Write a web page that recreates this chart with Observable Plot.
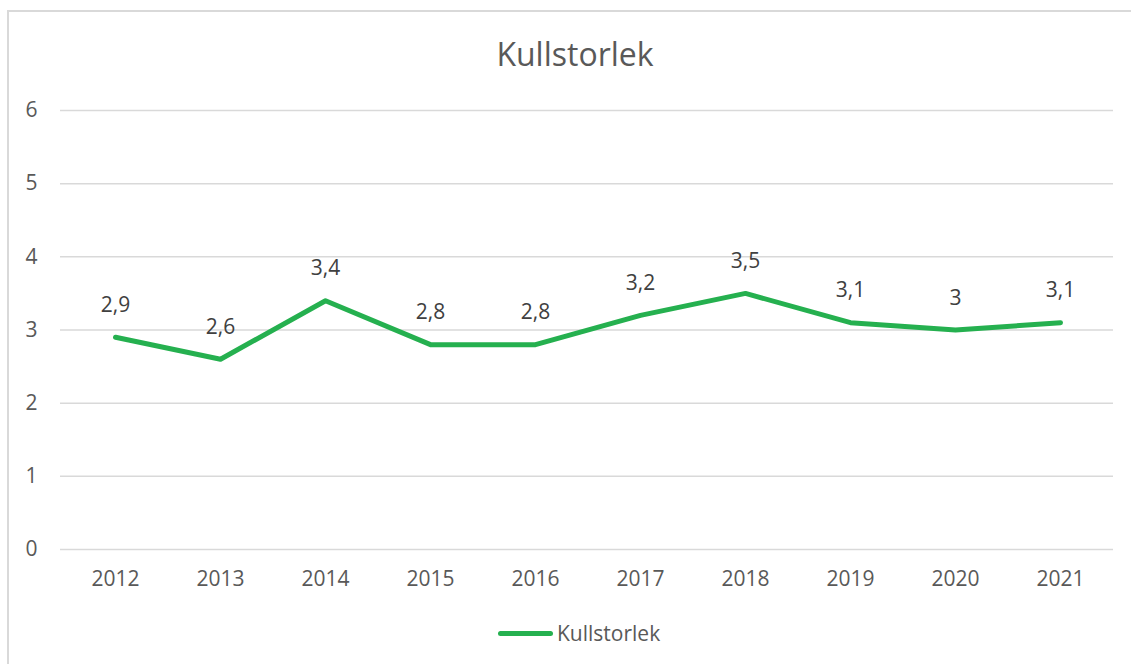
<!DOCTYPE html>
<html>
<head>
<meta charset="utf-8">
<script src="https://cdn.jsdelivr.net/npm/d3@7"></script>
<script src="https://cdn.jsdelivr.net/npm/@observablehq/plot@0.6"></script>
<style>
  html, body { margin: 0; padding: 0; background: #fff; }
  #wrap { position: relative; width: 1131px; height: 664px; overflow: hidden; font-family: "Open Sans", sans-serif; }
  #frame { position: absolute; left: 7px; top: 10px; width: 1300px; height: 800px; border-left: 2px solid #d9d9d9; border-top: 2px solid #d9d9d9; }
  #title { position: absolute; left: 0; width: 1150px; top: 38px; text-align: center; font-size: 32px; line-height: 32px; color: #595959; }
  #chart { position: absolute; left: 0; top: 90px; }
  #legend { position: absolute; left: 0; top: 620px; width: 1131px; height: 26px; }
  #legend .sw { position: absolute; left: 498px; top: 11px; width: 55px; height: 5px; border-radius: 3px; background: #25b04f; }
  #legend .lb { position: absolute; left: 557px; top: 0px; font-size: 21px; line-height: 26px; color: #595959; }
</style>
</head>
<body>
<div id="wrap">
  <div id="frame"></div>
  <div id="title">Kullstorlek</div>
  <div id="chart"></div>
  <div id="legend"><div class="sw"></div><div class="lb">Kullstorlek</div></div>
</div>
<script>
const years = ["2012","2013","2014","2015","2016","2017","2018","2019","2020","2021"];
const values = [2.9, 2.6, 3.4, 2.8, 2.8, 3.2, 3.5, 3.1, 3.0, 3.1];
const yTicks = [0, 1, 2, 3, 4, 5, 6];
const seriesName = "Kullstorlek";

const data = years.map((y, i) => ({year: y, value: values[i]}));
const fmt = v => String(v).replace(".", ",");

const chart = Plot.plot({
  width: 1131,
  height: 520,
  marginLeft: 60,
  marginRight: 18,
  marginTop: 20,
  marginBottom: 61,
  style: { fontFamily: "'Open Sans', sans-serif", fontSize: "21px", background: "transparent" },
  x: { type: "point", domain: years, padding: 0, insetLeft: 51, insetRight: 50, label: null },
  y: { domain: [0, 6], label: null },
  marks: [
    Plot.ruleY(yTicks, { stroke: "#d9d9d9", strokeWidth: 1.5 }),
    Plot.axisY({ ticks: yTicks, tickSize: 0, tickPadding: 23, tickFormat: d => String(d), label: null, fill: "#595959", fontSize: 21 }),
    Plot.axisX({ tickSize: 0, tickPadding: 22, label: null, fill: "#595959", fontSize: 21 }),
    Plot.line(data, { x: "year", y: "value", stroke: "#25b04f", strokeWidth: 5, strokeLinecap: "round", strokeLinejoin: "round" }),
    Plot.text(data, { x: "year", y: "value", text: d => fmt(d.value), dy: -32, fill: "#404040", fontSize: 21 })
  ]
});
document.getElementById("chart").appendChild(chart);
</script>
</body>
</html>
